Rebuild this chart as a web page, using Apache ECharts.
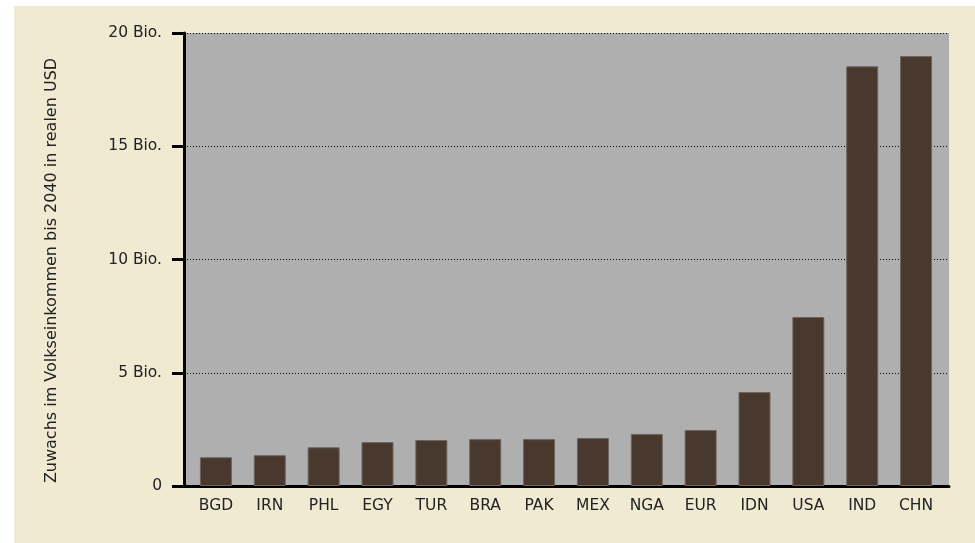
<!DOCTYPE html>
<html><head><meta charset="utf-8">
<script src="https://cdn.jsdelivr.net/npm/echarts@6/dist/echarts.min.js"></script>
<style>html,body{margin:0;padding:0;background:#fff}#c{width:975px;height:543px}</style>
</head><body><div id="c"></div>
<script>
const categories = ['BGD','IRN','PHL','EGY','TUR','BRA','PAK','MEX','NGA','EUR','IDN','USA','IND','CHN'];
const values = [1.27, 1.36, 1.71, 1.94, 2.03, 2.07, 2.07, 2.12, 2.3, 2.47, 4.15, 7.46, 18.53, 18.98];
const yTicks = [0, 5, 10, 15, 20];
const yTitle = 'Zuwachs im Volkseinkommen bis 2040 in realen USD';
const FONT = '"DejaVu Sans", sans-serif';
const yMin = yTicks[0], yMax = yTicks[yTicks.length - 1];

const chart = echarts.init(document.getElementById('c'), null, {renderer: 'canvas'});
chart.setOption({
  backgroundColor: '#ffffff',
  animation: false,
  graphic: [{type: 'rect', left: 14, top: 6, shape: {width: 961, height: 537}, style: {fill: '#f0ead3'}, z: -10}],
  grid: [
    {left: 184, right: 26, top: 33, bottom: 57, show: true, backgroundColor: '#afafaf', borderWidth: 0},
    {left: 189, right: 32, top: 33, bottom: 57}
  ],
  xAxis: [
    {gridIndex: 0, type: 'value', min: 0, max: 1,
     axisLine: {show: true, onZero: false, lineStyle: {color: '#000', width: 3}},
     axisTick: {show: false}, axisLabel: {show: false}, splitLine: {show: false}},
    {gridIndex: 1, type: 'category', data: categories,
     axisLine: {show: false}, axisTick: {show: false},
     axisLabel: {color: '#222', fontSize: 15.5, fontFamily: FONT, margin: 12}}
  ],
  yAxis: [
    {gridIndex: 0, type: 'value', min: yMin, max: yMax, interval: 5,
     name: yTitle, nameLocation: 'middle', nameGap: 124,
     nameTextStyle: {color: '#222', fontSize: 16, fontFamily: FONT, padding: [0, 22, 0, 0]},
     axisLine: {show: true, lineStyle: {color: '#000', width: 3}},
     axisTick: {show: true, length: 12, lineStyle: {color: '#000', width: 3}},
     axisLabel: {color: '#222', fontSize: 15.5, fontFamily: FONT, margin: 22,
       formatter: v => v === 0 ? '0' : v + ' Bio.'},
     splitLine: {show: true, lineStyle: {color: '#000', width: 1, type: [1, 2]}}},
    {gridIndex: 1, type: 'value', min: yMin, max: yMax, show: false}
  ],
  series: [{
    type: 'bar', data: values, barWidth: 32, xAxisIndex: 1, yAxisIndex: 1,
    itemStyle: {color: '#49382e', borderColor: '#6f655d', borderWidth: 1}
  }]
});
</script></body></html>
